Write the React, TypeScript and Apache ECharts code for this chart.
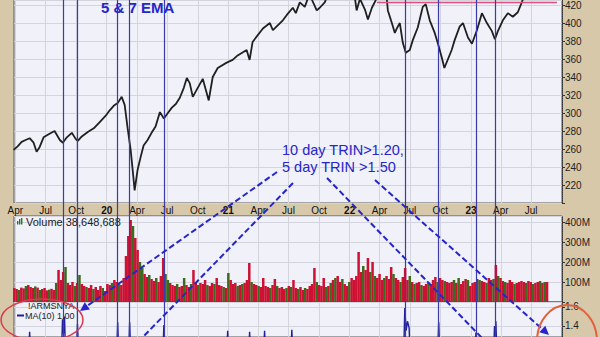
import React, { useEffect, useRef } from 'react';
import * as echarts from 'echarts';

// ---------- data ----------
const priceData: [string, number][] = [
  ['2019-03-27', 259], ['2019-04-08', 263], ['2019-04-20', 268], ['2019-05-02', 270], ['2019-05-14', 272],
  ['2019-05-26', 267], ['2019-06-04', 257], ['2019-06-13', 262], ['2019-06-25', 273], ['2019-07-13', 277],
  ['2019-07-28', 280], ['2019-08-13', 270], ['2019-08-22', 267], ['2019-09-03', 273], ['2019-09-18', 278],
  ['2019-09-30', 271], ['2019-10-06', 269], ['2019-10-18', 274], ['2019-11-05', 279], ['2019-11-23', 283],
  ['2019-12-11', 290], ['2019-12-29', 297], ['2020-01-10', 303], ['2020-01-22', 308], ['2020-02-03', 311],
  ['2020-02-15', 318], ['2020-02-24', 309], ['2020-03-04', 283], ['2020-03-13', 259], ['2020-03-19', 237],
  ['2020-03-25', 214], ['2020-04-03', 237], ['2020-04-12', 251], ['2020-04-21', 264], ['2020-05-03', 270],
  ['2020-05-15', 278], ['2020-05-27', 285], ['2020-06-09', 301], ['2020-06-21', 294], ['2020-07-03', 300],
  ['2020-07-15', 306], ['2020-07-27', 310], ['2020-08-08', 317], ['2020-08-20', 328], ['2020-08-29', 339],
  ['2020-09-07', 333], ['2020-09-16', 318], ['2020-09-28', 326], ['2020-10-16', 338], ['2020-11-03', 314],
  ['2020-11-15', 340], ['2020-11-30', 350], ['2020-12-27', 356], ['2021-01-14', 359], ['2021-01-29', 364],
  ['2021-02-25', 370], ['2021-03-06', 359], ['2021-03-15', 379], ['2021-04-15', 394], ['2021-05-06', 400],
  ['2021-05-15', 392], ['2021-06-14', 403], ['2021-06-26', 409], ['2021-07-14', 417], ['2021-07-23', 411],
  ['2021-08-04', 423], ['2021-08-19', 418], ['2021-09-02', 432], ['2021-09-24', 414], ['2021-10-03', 417],
  ['2021-10-18', 423], ['2021-11-02', 436], ['2021-12-02', 440], ['2022-01-01', 448], ['2022-01-16', 430],
  ['2022-01-22', 414], ['2022-02-01', 427], ['2022-02-16', 415], ['2022-02-25', 404], ['2022-03-09', 417],
  ['2022-03-24', 428], ['2022-04-08', 430], ['2022-04-23', 426], ['2022-04-26', 414], ['2022-05-08', 400],
  ['2022-05-17', 389], ['2022-05-23', 394], ['2022-06-01', 400], ['2022-06-10', 378], ['2022-06-19', 367],
  ['2022-07-01', 370], ['2022-07-10', 381], ['2022-07-25', 395], ['2022-08-09', 418], ['2022-08-18', 421],
  ['2022-08-30', 403], ['2022-09-14', 389], ['2022-09-23', 378], ['2022-10-05', 362], ['2022-10-13', 350],
  ['2022-11-04', 370], ['2022-11-13', 381], ['2022-11-28', 396], ['2022-12-08', 400], ['2022-12-23', 384],
  ['2023-01-04', 377], ['2023-01-19', 392], ['2023-02-03', 411], ['2023-02-18', 400], ['2023-03-05', 391],
  ['2023-03-14', 382], ['2023-03-23', 391], ['2023-04-07', 403], ['2023-04-22', 411], ['2023-05-07', 407],
  ['2023-05-22', 412], ['2023-06-03', 423], ['2023-06-12', 432], ['2023-07-12', 440], ['2023-07-30', 448],
  ['2023-08-20', 436],
];

// weekly volume (millions), first week ending 2019-03-29
const volumeFirstWeek = [2019, 2, 29];
const volumeValues: number[] = [
  70, 65, 60, 72, 68, 80, 85, 75, 70, 78,
  72, 60, 65, 70, 58, 62, 66, 60, 95, 160,
  110, 150, 175, 95, 85, 100, 80, 95, 135, 90,
  80, 75, 70, 85, 65, 75, 60, 80, 70, 55,
  90, 85, 95, 110, 100, 90, 85, 120,
  230, 330, 410, 380, 320, 260, 200, 170, 140, 125,
  135, 115, 105, 120, 100, 130, 220, 140, 110, 95,
  85, 80, 90, 75, 80, 120, 85, 75, 90, 160,
  100, 85, 95, 90, 110, 85, 80, 95, 90, 120,
  85, 80, 75, 70, 145, 110, 90, 95, 80, 85,
  90, 95, 110, 195, 100, 90, 85, 80, 75, 120,
  80, 75, 70, 85, 115, 80, 70, 75, 65, 70,
  80, 75, 110, 70, 65, 75, 60, 70, 65, 80,
  90, 170, 100, 85, 80, 120, 75, 80, 95, 110,
  120, 130, 100, 115, 90, 80, 100, 120, 110, 130,
  250, 150, 180, 160, 220, 150, 200, 130, 120, 140,
  110, 120, 130, 115, 175, 140, 120, 110, 100, 125,
  170, 110, 130, 100, 90, 95, 100, 85, 80, 90,
  95, 90, 110, 125, 100, 120, 110, 105, 100, 95,
  100, 110, 95, 120, 90, 105, 115, 110, 80, 95,
  100, 115, 110, 105, 100, 95, 120, 110, 115, 185,
  130, 120, 105, 100, 95, 110, 100, 90, 95, 100,
  105, 100, 95, 105, 100, 90, 95, 100, 105, 95, 100, 100,
];
const volumeUpDown =
  'rrgrrgrrrg' + 'rgrrrgrrgr' + 'rrgrrrgrgr' + 'rgrrgrrrgr' + 'rrgrrgrr' +
  'rrrgrrggrr' + 'grrgrrrggr' + 'rrgrrgrrgr' + 'rgrrrgrrgr' + 'rrgrgrrrgr' +
  'grrrgrrgrr' + 'rrgrrgrrrg' + 'rgrrgrrgrr' + 'rrgrrrgrgr' + 'grrgrrgrrr' +
  'rrgrrgrgrr' + 'rgrrrgrrgr' + 'rrgrgrrgrr' + 'grrrgrrgrr' + 'rgrgrrrgrr' +
  'rrgrrgrrgr' + 'grrgrrrgrr' + 'rrgrrgrrgrgr';

const trinData: [string, number][] = [
  ['2019-03-28', 1.0],
  ['2019-05-10', 1.0], ['2019-05-14', 1.34], ['2019-05-18', 1.0],
  ['2019-08-17', 1.0], ['2019-08-21', 1.47], ['2019-08-24', 1.32], ['2019-08-27', 1.5], ['2019-08-31', 1.0],
  ['2019-10-01', 1.0], ['2019-10-05', 1.42], ['2019-10-09', 1.0],
  ['2020-01-30', 1.0], ['2020-02-03', 1.44], ['2020-02-07', 1.0],
  ['2020-03-06', 1.0], ['2020-03-10', 1.44], ['2020-03-14', 1.0],
  ['2020-06-17', 1.0], ['2020-06-21', 1.41], ['2020-06-25', 1.0],
  ['2020-12-26', 1.0], ['2020-12-30', 1.35], ['2021-01-03', 1.0],
  ['2021-03-02', 1.0], ['2021-03-06', 1.34], ['2021-03-10', 1.0],
  ['2021-04-16', 1.0], ['2021-04-20', 1.35], ['2021-04-24', 1.0],
  ['2021-07-07', 1.0], ['2021-07-11', 1.36], ['2021-07-15', 1.0],
  ['2022-06-12', 1.0], ['2022-06-16', 1.59], ['2022-06-20', 1.35], ['2022-06-24', 1.45], ['2022-06-29', 1.38], ['2022-07-03', 1.0],
  ['2022-09-22', 1.0], ['2022-09-26', 1.44], ['2022-09-30', 1.0],
  ['2023-01-12', 1.0], ['2023-01-16', 1.33], ['2023-01-20', 1.0],
  ['2023-03-09', 1.0], ['2023-03-13', 1.4], ['2023-03-15', 1.3], ['2023-03-17', 1.45], ['2023-03-21', 1.0],
  ['2023-08-25', 1.0],
];

const signalDates = [
  '2019-08-24', '2019-10-05', '2020-02-03', '2020-03-10', '2020-06-21',
  '2022-06-16', '2022-09-26', '2023-01-16', '2023-03-14',
];
const resistanceLevel = 423;
const resistanceFrom = '2022-03-24';
const resistanceTo = '2023-09-17';

const xStart = '2019-03-28';
const xEnd = '2023-10-02';
const lastLabelDate = '2023-07-01';
const priceMin = 200;
const priceMax = 425.6;
const volumeMaxM = 430;
const trinMin = 1.284;
const trinMax = 1.6526;
const trinTicks = [1.4, 1.6];
const monthLabels: Record<number, string> = { 3: 'Apr', 6: 'Jul', 9: 'Oct' };

// ---------- helpers ----------
const ts = (s: string) => {
  const [y, m, d] = s.split('-').map(Number);
  return new Date(y, m - 1, d).getTime();
};
const FONT = '"Liberation Sans", Arial, sans-serif';
const BLUE = '#2626c8';

export default function App() {
  const ref = useRef<HTMLDivElement>(null);
  useEffect(() => {
    if (!ref.current) return;
    const chart = echarts.init(ref.current, null, { renderer: 'svg' });
    const xMin = ts(xStart);
    const xMax = ts(xEnd);
    const quarterTicks: number[] = [];
    for (let y = 2019; y <= 2023; y++) {
      for (const m of [0, 3, 6, 9]) {
        const t = new Date(y, m, 1).getTime();
        if (t >= xMin && t <= xMax) quarterTicks.push(t);
      }
    }
    const labelTicks = quarterTicks.filter((t) => t <= ts(lastLabelDate));
    const gridLine = { color: '#d4d4de', width: 1 };
    const xAxisFor = (gridIndex: number, labels: boolean, hidden = false) => ({
      type: 'value',
      gridIndex,
      min: xMin,
      max: xMax,
      show: !hidden,
      axisLine: { show: false },
      axisTick: { show: false, customValues: labelTicks },
      splitLine: { show: !hidden, lineStyle: gridLine },
      axisLabel: labels
        ? {
            show: true,
            customValues: labelTicks,
            margin: 2,
            fontSize: 10,
            fontFamily: FONT,
            color: '#111',
            formatter: (v: number) => {
              const d = new Date(v);
              const m = d.getMonth();
              if (m === 0) return '{yr|' + String(d.getFullYear()).slice(2) + '}';
              return monthLabels[m] || '';
            },
            rich: { yr: { fontWeight: 'bold', fontSize: 10, fontFamily: FONT, color: '#111' } },
          }
        : { show: false },
    });
    const yAxisBase = {
      position: 'right',
      axisLine: { show: true, lineStyle: { color: '#333', type: 'dotted' } },
      axisTick: { show: true, length: 3, lineStyle: { color: '#333' } },
      splitLine: { show: true, lineStyle: gridLine },
    };
    const yLabel = { fontSize: 10, fontFamily: FONT, color: '#222', margin: 3 };
    const gridBase = {
      left: 14,
      right: 38,
      show: true,
      backgroundColor: '#f0f1f9',
      borderColor: '#555',
      borderWidth: 1,
    };

    const volumeSeriesData = volumeValues.map((v, i) => [
      new Date(volumeFirstWeek[0], volumeFirstWeek[1], volumeFirstWeek[2] + 7 * i).getTime(),
      v,
    ]);

    // arrowhead helper (pixel annotation)
    const arrowHead = (fx: number, fy: number, tx: number, ty: number, len = 9, half = 4.5) => {
      const dx = tx - fx, dy = ty - fy;
      const L = Math.hypot(dx, dy);
      const ux = dx / L, uy = dy / L;
      const bx = tx - ux * len, by = ty - uy * len;
      return [[tx, ty], [bx - uy * half, by + ux * half], [bx + uy * half, by - ux * half]];
    };
    const dashed = { stroke: BLUE, lineWidth: 2, lineDash: [6, 3] };

    const option: any = {
      animation: false,
      backgroundColor: '#d7c8aa',
      grid: [
        { ...gridBase, top: 0, height: 203 },
        { ...gridBase, top: 216, height: 86 },
        { ...gridBase, top: 302, height: 35 },
        { left: 14, right: 38, top: 0, height: 337, show: false },
      ],
      xAxis: [xAxisFor(0, true), xAxisFor(1, false), xAxisFor(2, false), xAxisFor(3, false, true)],
      yAxis: [
        {
          ...yAxisBase,
          type: 'value',
          gridIndex: 0,
          min: priceMin,
          max: priceMax,
          interval: 20,
          axisLabel: { ...yLabel, formatter: (v: number) => (v === priceMin ? '' : String(v)) },
        },
        {
          ...yAxisBase,
          type: 'value',
          gridIndex: 1,
          min: 0,
          max: volumeMaxM,
          interval: 100,
          axisLabel: { ...yLabel, formatter: (v: number) => (v === 0 ? '' : v + 'M') },
        },
        {
          ...yAxisBase,
          type: 'value',
          gridIndex: 2,
          min: trinMin,
          max: trinMax,
          axisTick: { show: true, length: 3, lineStyle: { color: '#333' }, customValues: trinTicks },
          axisLabel: { ...yLabel, customValues: trinTicks, formatter: (v: number) => v.toFixed(1) },
        },
        { type: 'value', gridIndex: 3, min: 0, max: 1, show: false, splitLine: { show: false } },
      ],
      series: [
        {
          type: 'line',
          name: 'price',
          xAxisIndex: 0,
          yAxisIndex: 0,
          data: priceData.map(([d, v]) => [ts(d), v]),
          showSymbol: false,
          lineStyle: { color: '#202020', width: 1.8 },
          z: 3,
          markLine: {
            silent: true,
            symbol: ['none', 'none'],
            label: { show: false },
            lineStyle: { color: '#e0507a', width: 1.3, type: 'solid' },
            data: [[{ coord: [ts(resistanceFrom), resistanceLevel] }, { coord: [ts(resistanceTo), resistanceLevel] }]],
          },
        },
        {
          type: 'bar',
          name: 'volume',
          xAxisIndex: 1,
          yAxisIndex: 1,
          data: volumeSeriesData,
          barWidth: 2.5,
          itemStyle: {
            color: (p: any) => (volumeUpDown[p.dataIndex] === 'g' ? '#3d6b1e' : '#cc1133'),
          },
        },
        {
          type: 'line',
          name: 'trin',
          xAxisIndex: 2,
          yAxisIndex: 2,
          data: trinData.map(([d, v]) => [ts(d), v]),
          showSymbol: false,
          lineStyle: { color: '#1f1f99', width: 1.4 },
        },
        {
          type: 'line',
          name: 'signals',
          xAxisIndex: 3,
          yAxisIndex: 3,
          data: [[xMin, -1]],
          showSymbol: false,
          lineStyle: { opacity: 0 },
          z: 6,
          markLine: {
            silent: true,
            symbol: ['none', 'none'],
            label: { show: false },
            lineStyle: { color: '#3a3aa8', width: 1.2, type: 'solid' },
            data: signalDates.map((d) => ({ xAxis: ts(d) })),
          },
        },
      ],
      graphic: [
        {
          type: 'text', x: 101, y: 7.5, z: 100,
          style: { text: '5 & 7 EMA', fill: BLUE, font: 'bold 15px ' + FONT, textVerticalAlign: 'middle' },
        },
        {
          type: 'text', x: 282, y: 150.2, z: 100,
          style: { text: '10 day TRIN>1.20,', fill: BLUE, font: '14.5px ' + FONT, textVerticalAlign: 'middle' },
        },
        {
          type: 'text', x: 282, y: 166.5, z: 100,
          style: { text: '5 day TRIN >1.50', fill: BLUE, font: '14.5px ' + FONT, textVerticalAlign: 'middle' },
        },
        { type: 'line', z: 100, shape: { x1: 277, y1: 172, x2: 87.4, y2: 305.8 }, style: dashed },
        { type: 'polygon', z: 100, shape: { points: arrowHead(277, 172, 80, 311) }, style: { fill: BLUE } },
        { type: 'line', z: 100, shape: { x1: 293, y1: 183, x2: 140, y2: 340 }, style: dashed },
        { type: 'line', z: 100, shape: { x1: 327, y1: 178, x2: 484, y2: 340 }, style: dashed },
        { type: 'line', z: 100, shape: { x1: 375, y1: 180, x2: 542.3, y2: 329 }, style: dashed },
        { type: 'polygon', z: 100, shape: { points: arrowHead(375, 180, 549, 335) }, style: { fill: BLUE } },
        {
          type: 'ellipse', z: 100, shape: { cx: 42, cy: 320, rx: 41, ry: 21 },
          style: { fill: 'none', stroke: '#d83a4c', lineWidth: 1.5 },
        },
        {
          type: 'ellipse', z: 100, shape: { cx: 567, cy: 341, rx: 30, ry: 36 },
          style: { fill: 'none', stroke: '#e2603a', lineWidth: 2 },
        },
        // volume legend
        { type: 'rect', z: 90, shape: { x: 17, y: 221, width: 1.4, height: 3.5 }, style: { fill: '#2a7a2a' } },
        { type: 'rect', z: 90, shape: { x: 19, y: 219, width: 1.4, height: 5.5 }, style: { fill: '#2a7a2a' } },
        { type: 'rect', z: 90, shape: { x: 21, y: 218, width: 1.4, height: 6.5 }, style: { fill: '#2a7a2a' } },
        {
          type: 'text', x: 26, y: 221.5, z: 90,
          style: { text: 'Volume 38,648,688', fill: '#222', font: '11px ' + FONT, textVerticalAlign: 'middle' },
        },
        // TRIN legend
        {
          type: 'text', x: 28, y: 306, z: 90,
          style: { text: '!ARMSNYA', fill: '#222', font: '9px ' + FONT, textVerticalAlign: 'middle' },
        },
        { type: 'line', z: 90, shape: { x1: 17, y1: 315.5, x2: 24, y2: 315.5 }, style: { stroke: '#1f1f99', lineWidth: 2 } },
        {
          type: 'text', x: 25, y: 315.5, z: 90,
          style: { text: 'MA(10) 1.00', fill: '#222', font: '9px ' + FONT, textVerticalAlign: 'middle' },
        },
      ],
    };
    chart.setOption(option);
    return () => chart.dispose();
  }, []);
  return <div ref={ref} style={{ position: 'absolute', left: 0, top: 0, width: 600, height: 337 }} />;
}
